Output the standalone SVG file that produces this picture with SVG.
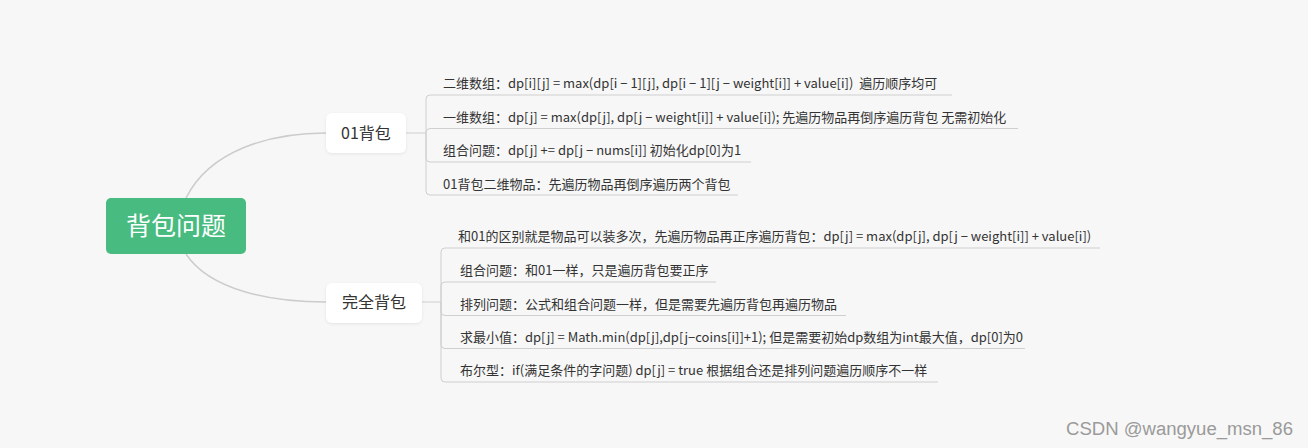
<svg xmlns="http://www.w3.org/2000/svg" width="1308" height="448" viewBox="0 0 1308 448">
<defs>
<filter id="sh" x="-20%" y="-20%" width="140%" height="160%"><feDropShadow dx="0" dy="1" stdDeviation="1.5" flood-color="#000" flood-opacity="0.08"/></filter>
<style>
.bg{fill:#f7f7f7}
.c{fill:none;stroke:#cccccc;stroke-width:1.5}
.l{fill:none;stroke:#cfcfcf;stroke-width:1}
.root{fill:#48bb80}
.rt{font-family:"Noto Sans CJK SC",sans-serif;font-size:25px;fill:#ffffff;text-anchor:middle}
.sub{fill:#ffffff;filter:url(#sh)}
.st{font-family:"Noto Sans CJK SC",sans-serif;font-size:16px;fill:#333333;text-anchor:middle}
.t{font-family:"Noto Sans CJK SC",sans-serif;font-size:13px;fill:#333333;white-space:pre}
.wm{font-family:"Liberation Sans",sans-serif;font-size:18px;fill:#9a9a9a}
</style>
</defs>
<rect class="bg" x="0" y="0" width="1308" height="448"/>
<g id="connectors">
<path class="c" d="M186,198 C210,150 270,133 326,133"/>
<path class="c" d="M186,254 C210,290 270,302 326,302"/>
<path class="l" d="M406,133 L426,133"/>
<path class="l" d="M426,133 L426,99 Q426,95 430,95 L952,95"/>
<path class="l" d="M426,133 L426,132.5 Q426,128.5 430,128.5 L1018,128.5"/>
<path class="l" d="M426,133 L426,158 Q426,162 430,162 L751,162"/>
<path class="l" d="M426,133 L426,191 Q426,195 430,195 L738,195"/>
<path class="l" d="M422,302 L441,302"/>
<path class="l" d="M441,302 L441,252 Q441,248 445,248 L1100,248"/>
<path class="l" d="M441,302 L441,286 Q441,282 445,282 L716,282"/>
<path class="l" d="M441,302 L441,311.5 Q441,315.5 445,315.5 L846,315.5"/>
<path class="l" d="M441,302 L441,344.5 Q441,348.5 445,348.5 L1025,348.5"/>
<path class="l" d="M441,302 L441,378 Q441,382 445,382 L938,382"/>
</g>
<g id="root">
<rect class="root" x="106" y="198" width="140" height="56" rx="5"/>
<text class="rt" x="176" y="235">背包问题</text>
</g>
<g id="n01">
<rect class="sub" x="326" y="113" width="80" height="40" rx="6"/>
<text class="st" x="366" y="139">01背包</text>
</g>
<g id="nfull">
<rect class="sub" x="326" y="283" width="96" height="40" rx="6"/>
<text class="st" x="374" y="308">完全背包</text>
</g>
<g id="leaf01-1"><text class="t" x="443" y="88">二维数组：dp[i][j] = max(dp[i − 1][j], dp[i − 1][j − weight[i]] + value[i])  遍历顺序均可</text></g>
<g id="leaf01-2"><text class="t" x="443" y="122">一维数组：dp[j] = max(dp[j], dp[j − weight[i]] + value[i]); 先遍历物品再倒序遍历背包 无需初始化</text></g>
<g id="leaf01-3"><text class="t" x="443" y="155">组合问题：dp[j] += dp[j − nums[i]] 初始化dp[0]为1</text></g>
<g id="leaf01-4"><text class="t" x="443" y="189">01背包二维物品：先遍历物品再倒序遍历两个背包</text></g>
<g id="leafF-1"><text class="t" x="458" y="241">和01的区别就是物品可以装多次，先遍历物品再正序遍历背包：dp[j] = max(dp[j], dp[j − weight[i]] + value[i])</text></g>
<g id="leafF-2"><text class="t" x="460" y="275">组合问题：和01一样，只是遍历背包要正序</text></g>
<g id="leafF-3"><text class="t" x="460" y="309">排列问题：公式和组合问题一样，但是需要先遍历背包再遍历物品</text></g>
<g id="leafF-4"><text class="t" x="460" y="342">求最小值：dp[j] = Math.min(dp[j],dp[j−coins[i]]+1); 但是需要初始dp数组为int最大值，dp[0]为0</text></g>
<g id="leafF-5"><text class="t" x="460" y="375">布尔型：if(满足条件的字问题) dp[j] = true 根据组合还是排列问题遍历顺序不一样</text></g>
<text class="wm" x="1066" y="435" textLength="227" lengthAdjust="spacingAndGlyphs">CSDN @wangyue_msn_86</text>
</svg>
